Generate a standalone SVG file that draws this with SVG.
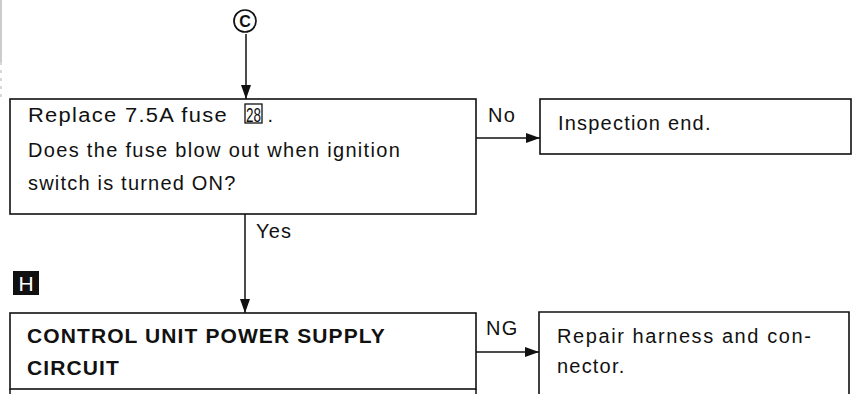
<svg xmlns="http://www.w3.org/2000/svg" width="859" height="394" viewBox="0 0 859 394">
<style>
.box{fill:#fff;stroke:#111;stroke-width:1.6}
.ln{stroke:#111;stroke-width:1.5;fill:none}
.t{font-family:"Liberation Sans",Arial,Helvetica,sans-serif;font-size:20px;letter-spacing:1.2px;fill:#111}
.b{font-family:"Liberation Sans",Arial,Helvetica,sans-serif;font-size:21px;font-weight:bold;letter-spacing:1.1px;fill:#111}
</style>
<defs>
<marker id="ah" markerWidth="14" markerHeight="10" refX="14" refY="5" orient="auto" markerUnits="userSpaceOnUse">
<path d="M0,0 L14,5 L0,10 z" fill="#111"/>
</marker>
</defs>
<rect width="859" height="394" fill="#fff"/>
<line x1="1" y1="0" x2="1" y2="62" stroke="#bbb" stroke-width="1.5"/>
<line x1="1" y1="62" x2="1" y2="97" stroke="#ccc" stroke-width="1.5" stroke-dasharray="3,5"/>

<g id="connectors">
<line class="ln" x1="246" y1="34" x2="246" y2="99" marker-end="url(#ah)"/>
<line class="ln" x1="476" y1="138" x2="540" y2="138" marker-end="url(#ah)"/>
<line class="ln" x1="245" y1="214" x2="245" y2="313" marker-end="url(#ah)"/>
<line class="ln" x1="476" y1="352" x2="539" y2="352" marker-end="url(#ah)"/>
<text class="t" x="488" y="122">No</text>
<text class="t" x="256" y="238">Yes</text>
<text class="t" x="486" y="335">NG</text>
</g>

<g id="connector-c">
<circle cx="245" cy="21" r="11" fill="none" stroke="#111" stroke-width="1.7"/>
<text x="245" y="27" text-anchor="middle" font-family="Liberation Sans,Arial,sans-serif" font-size="16" font-weight="bold" fill="#111">C</text>
</g>

<g id="q1">
<rect class="box" x="10" y="99" width="466" height="115"/>
<text class="t" x="28" y="122" textLength="200" lengthAdjust="spacingAndGlyphs">Replace 7.5A fuse</text>
<rect x="245" y="104" width="17" height="19" fill="none" stroke="#111" stroke-width="1.3"/>
<text x="246" y="122" font-family="Liberation Sans,Arial,sans-serif" font-size="20" fill="#111" textLength="15" lengthAdjust="spacingAndGlyphs">28</text>
<text x="267.5" y="122" font-family="Liberation Sans,Arial,sans-serif" font-size="20" fill="#111">.</text>
<text class="t" x="28" y="157" textLength="373" lengthAdjust="spacing">Does the fuse blow out when ignition</text>
<text class="t" x="28" y="190">switch is turned ON?</text>
</g>

<g id="end1">
<rect class="box" x="540" y="99" width="311" height="55"/>
<text class="t" x="558" y="130">Inspection end.</text>
</g>

<g id="label-h">
<rect x="13" y="271" width="26" height="24" fill="#111"/>
<text x="26" y="291" text-anchor="middle" font-family="Liberation Sans,Arial,sans-serif" font-size="21" fill="#fff">H</text>
</g>

<g id="q2">
<rect class="box" x="10" y="313" width="466" height="76"/>
<line class="ln" x1="10" y1="389" x2="10" y2="394"/>
<line class="ln" x1="476" y1="389" x2="476" y2="394"/>
<text class="b" x="27" y="343">CONTROL UNIT POWER SUPPLY</text>
<text class="b" x="27" y="375">CIRCUIT</text>
</g>

<g id="repair">
<path class="box" d="M539,395 L539,312 L849,312 L849,395"/>
<text class="t" x="557" y="343" textLength="255" lengthAdjust="spacing">Repair harness and con-</text>
<text class="t" x="557" y="373">nector.</text>
</g>
</svg>
